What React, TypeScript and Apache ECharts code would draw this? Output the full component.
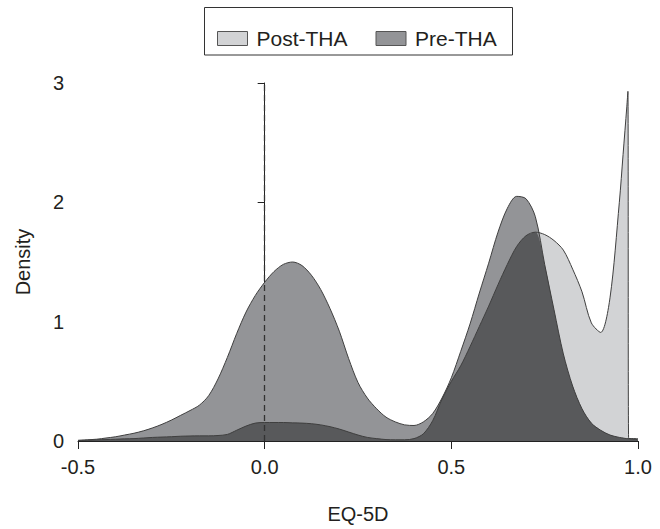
import React, { useEffect, useRef } from "react";
import * as echarts from "echarts";

const xs = [
  -0.5, -0.475, -0.45, -0.425, -0.4, -0.375, -0.35, -0.325, -0.3, -0.275,
  -0.25, -0.225, -0.2, -0.175, -0.15, -0.125, -0.1, -0.075, -0.05, -0.025,
  0, 0.025, 0.05, 0.075, 0.1, 0.125, 0.15, 0.175, 0.2, 0.225,
  0.25, 0.275, 0.3, 0.325, 0.35, 0.375, 0.4, 0.425, 0.45, 0.475,
  0.5, 0.525, 0.55, 0.575, 0.6, 0.625, 0.65, 0.675, 0.7, 0.725,
  0.75, 0.775, 0.8, 0.825, 0.85, 0.875, 0.9, 0.925, 0.95, 0.96,
  0.97, 0.973, 0.975, 1.0,
];

const preTHA = [
  0.005, 0.01, 0.015, 0.025, 0.035, 0.05, 0.065, 0.085, 0.11, 0.14,
  0.175, 0.215, 0.255, 0.3, 0.38, 0.52, 0.7, 0.9, 1.08, 1.22,
  1.33, 1.42, 1.48, 1.5, 1.47, 1.39, 1.27, 1.11, 0.92, 0.69,
  0.49, 0.36, 0.27, 0.2, 0.16, 0.135, 0.13, 0.16, 0.23, 0.36,
  0.53, 0.75, 0.98, 1.24, 1.49, 1.75, 1.95, 2.05, 2.03, 1.88,
  1.48, 1.1, 0.73, 0.46, 0.27, 0.15, 0.09, 0.05, 0.03, 0.025,
  0.02, 0.02, 0.02, 0.01,
];

const postTHA = [
  0.005, 0.007, 0.01, 0.012, 0.015, 0.018, 0.02, 0.025, 0.03, 0.033,
  0.036, 0.04, 0.042, 0.043, 0.043, 0.046, 0.055, 0.09, 0.125, 0.15,
  0.155, 0.155, 0.155, 0.152, 0.15, 0.145, 0.135, 0.12, 0.1, 0.075,
  0.05, 0.03, 0.02, 0.012, 0.01, 0.01, 0.02, 0.06, 0.17, 0.35,
  0.5, 0.63, 0.79, 0.96, 1.13, 1.31, 1.48, 1.63, 1.72, 1.75,
  1.73, 1.68, 1.6, 1.44, 1.25, 0.99, 0.91, 1.2, 2.0, 2.4,
  2.8, 2.93, 0.02, 0.02,
];

const xTicks = { min: -0.5, max: 1.0, interval: 0.5 };
const yTicks = { min: 0, max: 3, interval: 1 };

const LIGHT = "#d2d3d5";
const MEDIUM = "#939497";
const DARK = "#58595b";
const OUTLINE = "#3f3f3f";
const TEXT = "#231f20";
const FONT = "'Liberation Sans', Arial, Helvetica, sans-serif";

export default function App() {
  const ref = useRef<HTMLDivElement>(null);

  useEffect(() => {
    if (!ref.current) return;
    const chart = echarts.init(ref.current, undefined, { renderer: "svg" });

    const postData = xs.map((x, i) => [x, postTHA[i]]);
    const preData = xs.map((x, i) => [x, preTHA[i]]);
    const overlapData = xs.map((x, i) => [x, Math.min(postTHA[i], preTHA[i])]);
    const SMOOTH = 0.3;

    chart.setOption({
      animation: false,
      backgroundColor: "#ffffff",
      textStyle: { fontFamily: FONT },
      grid: { left: 78, right: 22, top: 83, bottom: 76, containLabel: false },
      legend: {
        left: 212,
        top: 23,
        itemWidth: 30,
        itemHeight: 14,
        itemGap: 28,
        selectedMode: false,
        textStyle: { fontSize: 21, color: TEXT, fontFamily: FONT, padding: [0, 0, 0, 4] },
        data: [
          { name: "Post-THA", icon: "rect", itemStyle: { color: LIGHT, borderColor: "#555", borderWidth: 1 } },
          { name: "Pre-THA", icon: "rect", itemStyle: { color: MEDIUM, borderColor: "#555", borderWidth: 1 } },
        ],
      },
      graphic: [
        {
          type: "rect",
          shape: { x: 204.5, y: 7.5, width: 308, height: 47.5 },
          style: { fill: "none", stroke: "#333", lineWidth: 1 },
          silent: true,
        },
      ],
      xAxis: {
        type: "value",
        min: xTicks.min,
        max: xTicks.max,
        interval: xTicks.interval,
        name: "EQ-5D",
        nameLocation: "middle",
        nameGap: 63,
        nameTextStyle: { fontSize: 20, color: TEXT, fontFamily: FONT },
        axisLine: { show: true, onZero: false, lineStyle: { color: "#222", width: 1 } },
        axisTick: { show: true, length: 8, lineStyle: { color: "#222" } },
        axisLabel: {
          fontSize: 20,
          color: TEXT,
          margin: 16,
          formatter: (v: number) => v.toFixed(1),
        },
        splitLine: { show: false },
      },
      yAxis: {
        type: "value",
        min: yTicks.min,
        max: yTicks.max,
        interval: yTicks.interval,
        name: "Density",
        nameLocation: "middle",
        nameGap: 45,
        nameRotate: 90,
        nameTextStyle: { fontSize: 20, color: TEXT, fontFamily: FONT },
        axisLine: { show: true, lineStyle: { color: "#222", width: 1 } },
        axisTick: { show: true, length: 7, lineStyle: { color: "#222" } },
        axisLabel: { fontSize: 20, color: TEXT, margin: 14 },
        splitLine: { show: false },
      },
      series: [
        {
          name: "Post-THA",
          type: "line",
          data: postData,
          smooth: SMOOTH,
          showSymbol: false,
          lineStyle: { width: 0 },
          itemStyle: { color: LIGHT },
          areaStyle: { color: LIGHT, opacity: 1 },
          z: 1,
          silent: true,
        },
        {
          name: "Pre-THA",
          type: "line",
          data: preData,
          smooth: SMOOTH,
          showSymbol: false,
          lineStyle: { width: 0 },
          itemStyle: { color: MEDIUM },
          areaStyle: { color: MEDIUM, opacity: 1 },
          z: 2,
          silent: true,
        },
        {
          name: "overlap",
          type: "line",
          data: overlapData,
          smooth: SMOOTH,
          showSymbol: false,
          lineStyle: { width: 0 },
          itemStyle: { color: DARK },
          areaStyle: { color: DARK, opacity: 1 },
          z: 3,
          silent: true,
        },
        {
          name: "postOutline",
          type: "line",
          data: postData,
          smooth: SMOOTH,
          showSymbol: false,
          lineStyle: { width: 1, color: OUTLINE },
          z: 4,
          silent: true,
        },
        {
          name: "preOutline",
          type: "line",
          data: preData,
          smooth: SMOOTH,
          showSymbol: false,
          lineStyle: { width: 1, color: OUTLINE },
          z: 4,
          silent: true,
          markLine: {
            silent: true,
            symbol: ["none", "none"],
            label: { show: false },
            lineStyle: { color: "#333", type: [6, 4], width: 1.3 },
            data: [{ xAxis: 0 }],
          },
        },
      ],
    });

    return () => chart.dispose();
  }, []);

  return (
    <div
      ref={ref}
      style={{ position: "fixed", left: 0, top: 0, width: 660, height: 529 }}
    />
  );
}
